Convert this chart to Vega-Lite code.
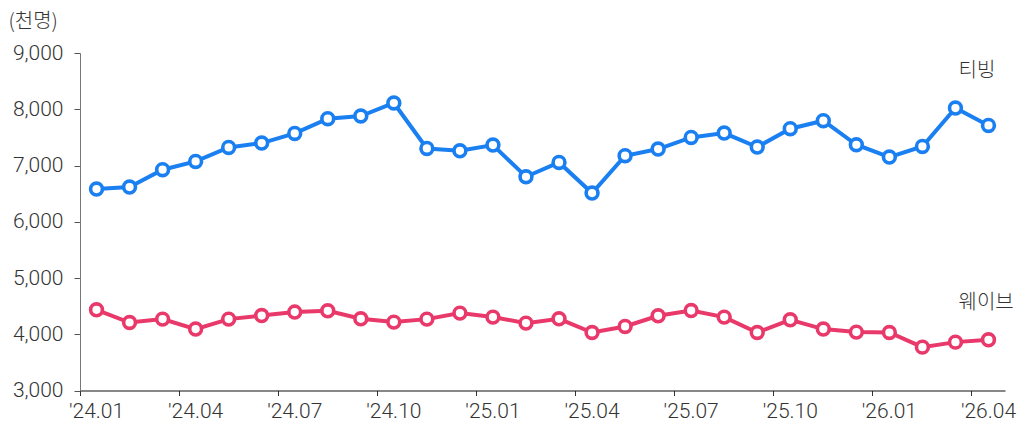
{
  "$schema": "https://vega.github.io/schema/vega-lite/v6.json",
  "autosize": {"type": "none"},
  "padding": {"left": 80, "top": 53, "right": 22, "bottom": 37},
  "width": 925,
  "height": 337.5,
  "background": "white",
  "config": {
    "view": {"stroke": null},
    "font": "Noto Sans CJK KR"
  },
  "data": {
    "values": [
      {"month": "'24.01", "series": "티빙", "value": 6581},
      {"month": "'24.02", "series": "티빙", "value": 6617},
      {"month": "'24.03", "series": "티빙", "value": 6925},
      {"month": "'24.04", "series": "티빙", "value": 7072},
      {"month": "'24.05", "series": "티빙", "value": 7321},
      {"month": "'24.06", "series": "티빙", "value": 7399},
      {"month": "'24.07", "series": "티빙", "value": 7570},
      {"month": "'24.08", "series": "티빙", "value": 7832},
      {"month": "'24.09", "series": "티빙", "value": 7880},
      {"month": "'24.10", "series": "티빙", "value": 8111},
      {"month": "'24.11", "series": "티빙", "value": 7303},
      {"month": "'24.12", "series": "티빙", "value": 7262},
      {"month": "'25.01", "series": "티빙", "value": 7364},
      {"month": "'25.02", "series": "티빙", "value": 6800},
      {"month": "'25.03", "series": "티빙", "value": 7054},
      {"month": "'25.04", "series": "티빙", "value": 6510},
      {"month": "'25.05", "series": "티빙", "value": 7174},
      {"month": "'25.06", "series": "티빙", "value": 7293},
      {"month": "'25.07", "series": "티빙", "value": 7499},
      {"month": "'25.08", "series": "티빙", "value": 7577},
      {"month": "'25.09", "series": "티빙", "value": 7328},
      {"month": "'25.10", "series": "티빙", "value": 7654},
      {"month": "'25.11", "series": "티빙", "value": 7796},
      {"month": "'25.12", "series": "티빙", "value": 7369},
      {"month": "'26.01", "series": "티빙", "value": 7150},
      {"month": "'26.02", "series": "티빙", "value": 7339},
      {"month": "'26.03", "series": "티빙", "value": 8022},
      {"month": "'26.04", "series": "티빙", "value": 7712},
      {"month": "'24.01", "series": "웨이브", "value": 4435},
      {"month": "'24.02", "series": "웨이브", "value": 4209},
      {"month": "'24.03", "series": "웨이브", "value": 4269},
      {"month": "'24.04", "series": "웨이브", "value": 4092},
      {"month": "'24.05", "series": "웨이브", "value": 4269},
      {"month": "'24.06", "series": "웨이브", "value": 4333},
      {"month": "'24.07", "series": "웨이브", "value": 4394},
      {"month": "'24.08", "series": "웨이브", "value": 4417},
      {"month": "'24.09", "series": "웨이브", "value": 4275},
      {"month": "'24.10", "series": "웨이브", "value": 4216},
      {"month": "'24.11", "series": "웨이브", "value": 4269},
      {"month": "'24.12", "series": "웨이브", "value": 4376},
      {"month": "'25.01", "series": "웨이브", "value": 4305},
      {"month": "'25.02", "series": "웨이브", "value": 4198},
      {"month": "'25.03", "series": "웨이브", "value": 4275},
      {"month": "'25.04", "series": "웨이브", "value": 4031},
      {"month": "'25.05", "series": "웨이브", "value": 4138},
      {"month": "'25.06", "series": "웨이브", "value": 4328},
      {"month": "'25.07", "series": "웨이브", "value": 4422},
      {"month": "'25.08", "series": "웨이브", "value": 4305},
      {"month": "'25.09", "series": "웨이브", "value": 4031},
      {"month": "'25.10", "series": "웨이브", "value": 4257},
      {"month": "'25.11", "series": "웨이브", "value": 4092},
      {"month": "'25.12", "series": "웨이브", "value": 4038},
      {"month": "'26.01", "series": "웨이브", "value": 4031},
      {"month": "'26.02", "series": "웨이브", "value": 3771},
      {"month": "'26.03", "series": "웨이브", "value": 3860},
      {"month": "'26.04", "series": "웨이브", "value": 3901}
    ]
  },
  "encoding": {
    "x": {
      "field": "month",
      "type": "ordinal",
      "sort": null,
      "scale": {"type": "band", "paddingInner": 0, "paddingOuter": 0},
      "axis": {
        "title": null,
        "values": ["'24.01", "'24.04", "'24.07", "'24.10", "'25.01", "'25.04", "'25.07", "'25.10", "'26.01", "'26.04"],
        "bandPosition": 0,
        "labelAngle": 0,
        "labelFont": "Roboto",
        "labelFontSize": 21,
        "labelFontWeight": 300,
        "labelColor": "#333333",
        "labelPadding": 5,
        "tickSize": 5,
        "tickColor": "#333333",
        "domainColor": "#111111",
        "domainWidth": 1.2,
        "grid": false
      }
    },
    "y": {
      "field": "value",
      "type": "quantitative",
      "scale": {"domain": [3000, 9000], "nice": false, "zero": false},
      "axis": {
        "values": [3000, 4000, 5000, 6000, 7000, 8000, 9000],
        "format": ",d",
        "grid": false,
        "labelFont": "Roboto",
        "labelFontSize": 21,
        "labelFontWeight": 300,
        "labelColor": "#333333",
        "labelPadding": 11,
        "tickSize": 6,
        "tickColor": "#555555",
        "domainColor": "#777777",
        "title": "(천명)",
        "titleAngle": 0,
        "titleAlign": "left",
        "titleBaseline": "middle",
        "titleX": -72,
        "titleY": -32,
        "titleFontSize": 20,
        "titleFontWeight": 300,
        "titleColor": "#333333"
      }
    },
    "color": {
      "field": "series",
      "type": "nominal",
      "scale": {"domain": ["티빙", "웨이브"], "range": ["#1a7ff0", "#e8396a"]},
      "legend": null
    }
  },
  "layer": [
    {"mark": {"type": "line", "strokeWidth": 4}},
    {"mark": {"type": "point", "shape": "circle", "filled": true, "fill": "white", "size": 140, "strokeWidth": 3.6, "opacity": 1}, "encoding": {"stroke": {"field": "series", "type": "nominal", "scale": {"domain": ["티빙", "웨이브"], "range": ["#1a7ff0", "#e8396a"]}, "legend": null}}},
    {
      "transform": [{"filter": "datum.series === '티빙' && datum.month === \"'26.04\""}],
      "mark": {"type": "text", "align": "left", "baseline": "middle", "dx": -30, "dy": -54, "fontSize": 20, "fontWeight": 300, "color": "#333333"},
      "encoding": {"text": {"field": "series"}, "color": {"value": "#333333"}}
    },
    {
      "transform": [{"filter": "datum.series === '웨이브' && datum.month === \"'26.04\""}],
      "mark": {"type": "text", "align": "left", "baseline": "middle", "dx": -30, "dy": -36.5, "fontSize": 20, "fontWeight": 300, "color": "#333333"},
      "encoding": {"text": {"field": "series"}, "color": {"value": "#333333"}}
    }
  ]
}
